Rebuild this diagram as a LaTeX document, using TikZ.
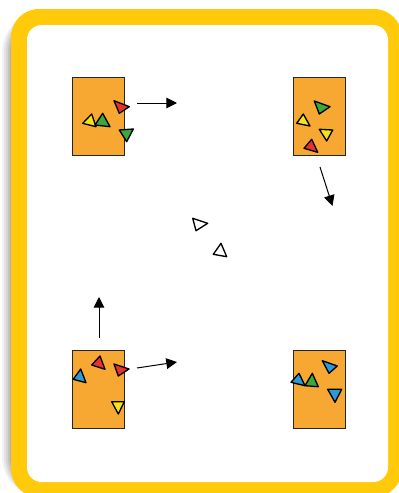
\documentclass[tikz,border=0pt]{standalone}
\usetikzlibrary{arrows.meta}
\definecolor{frameyellow}{HTML}{FFCA0A}
\definecolor{fieldorange}{HTML}{F7A833}
\definecolor{tred}{HTML}{E8332D}
\definecolor{tyellow}{HTML}{F1E51A}
\definecolor{tgreen}{HTML}{3DA83A}
\definecolor{tblue}{HTML}{2D9AD8}
\tikzset{
  field/.style={draw=black!85, line width=0.7pt, fill=fieldorange,
    minimum width=39pt, minimum height=58.5pt, inner sep=0pt, outer sep=0pt},
  move/.style={draw=black, line width=0.75pt, -{Triangle[length=8pt,width=8pt]}},
  cone/.style={draw=black, line width=1pt, line join=round},
}
% a small triangular cone given by its three corners
\newcommand{\cone}[4]{\filldraw[cone, fill=#1] #2 -- #3 -- #4 -- cycle;}
\begin{document}
\begin{tikzpicture}[x=0.75pt,y=-0.75pt]
\useasboundingbox (0,0) rectangle (399,493);
% soft shadow to the left of the frame
\foreach \d/\o in {9/0.05,7/0.06,5/0.07,3/0.08,1/0.1}
  \fill[black, opacity=\o, rounded corners=30pt] (11-\d,12) rectangle (402,497);
% yellow frame with white panel
\fill[frameyellow, rounded corners=21pt] (11,9) rectangle (402,497);
\fill[white, rounded corners=11pt] (27,25) rectangle (388,482);

% four fields
\node[field] (tl) at (98,116) {};
\node[field] (tr) at (319.5,116) {};
\node[field] (bl) at (98,389) {};
\node[field] (br) at (319.5,389) {};

% cones in the top-left field
\cone{tred}{(114,100.7)}{(129.3,106.7)}{(119.3,113.3)}
\cone{tyellow}{(82.7,123.3)}{(91.7,114)}{(96,126.7)}
\cone{tgreen}{(95,125)}{(102.7,113.3)}{(110,126.7)}
\cone{tgreen}{(119.3,130)}{(133.3,129)}{(126.7,141.7)}

% cones in the top-right field
\cone{tgreen}{(314.3,101)}{(330,106.7)}{(319.3,114)}
\cone{tyellow}{(296.7,123.3)}{(303.3,114)}{(310,126)}
\cone{tyellow}{(319.3,129.3)}{(332.7,130)}{(326.7,141)}
\cone{tred}{(304,148.3)}{(311.7,139.3)}{(317.7,152.3)}

% cones in the bottom-left field
\cone{tred}{(91.7,365)}{(100,356)}{(105,369.3)}
\cone{tred}{(114,364)}{(129,369)}{(118.3,376)}
\cone{tblue}{(73.3,379.3)}{(80.7,369)}{(86,382.7)}
\cone{tyellow}{(111.7,401.7)}{(124.3,401.7)}{(118.3,414)}

% cones in the bottom-right field
\cone{tblue}{(322.3,360.7)}{(337.3,366)}{(329,373.3)}
\cone{tblue}{(291,382.3)}{(299,373.3)}{(305,385.7)}
\cone{tgreen}{(305,385.7)}{(312.3,373.3)}{(318.3,386.7)}
\cone{tblue}{(327.7,389.3)}{(341.7,389.3)}{(335,402.3)}

% two open cones in the middle
\cone{white}{(192.7,218.3)}{(207.7,223.3)}{(196,230.7)}
\cone{white}{(213.3,254.3)}{(221,243.3)}{(226.7,256.7)}

% movement arrows
\coordinate (a1s) at (137,103);   \coordinate (a1e) at (177,103);
\coordinate (a2s) at (320,167);   \coordinate (a2e) at (332.5,206);
\coordinate (a3s) at (99,338);    \coordinate (a3e) at (99,297);
\coordinate (a4s) at (137,368);   \coordinate (a4e) at (177,362);
\draw[move] (a1s) -- (a1e);
\draw[move] (a2s) -- (a2e);
\draw[move] (a3s) -- (a3e);
\draw[move] (a4s) -- (a4e);
\end{tikzpicture}
\end{document}
